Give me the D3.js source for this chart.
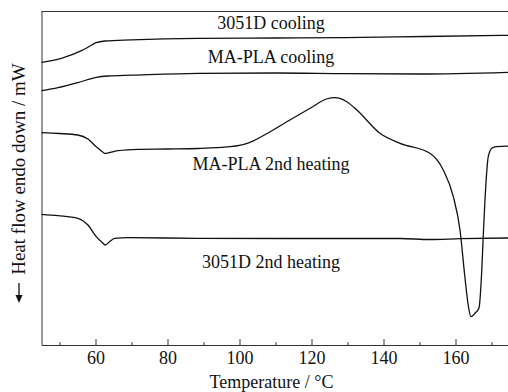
<!DOCTYPE html>
<html><head><meta charset="utf-8">
<script src="https://cdn.jsdelivr.net/npm/d3@7"></script>
<style>
html,body{margin:0;padding:0;background:#fff;}
svg{display:block;font-family:"Liberation Serif","Times New Roman",serif;}
</style></head>
<body><svg id="c" width="508" height="392"></svg>
<script>
// Temperature (°C) and heat-flow (arbitrary units, endo down)
const coolT_3051D = [45, 50.5, 56.1, 57.9, 60.2, 62.6, 70, 88.5, 110, 129.3, 151.5, 175];
const coolV_3051D = [282.7, 286.7, 294.3, 297.7, 302.3, 304, 305.2, 306.7, 307, 307.3, 308.5, 309.7];

const coolT_MAPLA = [45, 49.6, 55.1, 60.2, 63.5, 70, 88.5, 110, 129.3, 150, 175];
const coolV_MAPLA = [254.3, 257.3, 262.3, 267.7, 269, 269.8, 271.7, 272, 271.3, 271, 272.7];

const heatT_MAPLA = [45, 50, 55.1, 57.9, 60.2, 62.1, 62.6, 64, 66.3, 71.8, 80, 88.5, 97.4, 102.9, 108.5, 114, 119.6, 124.2, 126.5, 129.8, 132.6, 139, 144.6, 152.9, 156.6, 159.4, 161.25, 162.6, 163.6, 164.3, 165.4, 166.5, 167.3, 167.7, 168.4, 169.1, 170.1, 171.4, 175];
const heatV_MAPLA = [212.3, 211.5, 210, 206, 198.3, 192.7, 191.7, 192.5, 194.3, 195.7, 196, 196.5, 198.3, 202.7, 213.3, 225, 236.7, 246, 247.3, 243.3, 235, 211.7, 201.7, 191.7, 175, 148.3, 115, 68.3, 38.3, 28.3, 31.7, 36.7, 75, 108.3, 158.3, 188.3, 196.7, 198.3, 199];

const heatT_3051D = [45, 49.6, 55.1, 57.9, 60.2, 62.1, 62.7, 63.9, 65.3, 69, 88.5, 116.8, 144.6, 152.9, 161.25, 175];
const heatV_3051D = [130.7, 129.3, 126.7, 120, 108.3, 101.7, 100, 103.3, 106.7, 107.3, 106.7, 106.5, 106.5, 105.5, 106.3, 107];

const seriesNames = ["3051D cooling", "MA-PLA cooling", "MA-PLA 2nd heating", "3051D 2nd heating"];
const majorTicks = [60, 80, 100, 120, 140, 160];
const minorTicks = [50, 70, 90, 110, 130, 150, 170];
const xTitle = "Temperature / °C";
const yTitle = "Heat flow endo down / mW";

const series = [
  {name: seriesNames[0], T: coolT_3051D, V: coolV_3051D, lx: 271, ly: 29},
  {name: seriesNames[1], T: coolT_MAPLA, V: coolV_MAPLA, lx: 271, ly: 63},
  {name: seriesNames[2], T: heatT_MAPLA, V: heatV_MAPLA, lx: 271, ly: 170},
  {name: seriesNames[3], T: heatT_3051D, V: heatV_3051D, lx: 271, ly: 268}
];

const svg = d3.select("#c");
const mLeft = 41.5, mTop = 11, mBottom = 345;
const x = d3.scaleLinear().domain([45, 175]).range([mLeft, mLeft + 130 * 3.6]);
const y = d3.scaleLinear().domain([0, 334]).range([mBottom, mTop]);

svg.append("line").attr("x1", mLeft).attr("x2", 508).attr("y1", mTop + 0.5).attr("y2", mTop + 0.5)
  .attr("stroke", "#333").attr("stroke-width", 1);

const gx = svg.append("g").attr("transform", `translate(0,${mBottom})`);
gx.call(d3.axisBottom(x).tickValues(majorTicks).tickSizeInner(-6).tickSizeOuter(0).tickPadding(6).tickFormat(d3.format("d")));
gx.select(".domain").attr("stroke", "#333");
gx.selectAll(".tick line").attr("stroke", "#333");
gx.selectAll(".tick text").attr("font-size", 18).attr("fill", "#111")
  .attr("font-family", "'Liberation Serif','Times New Roman',serif");
const gm = svg.append("g").attr("transform", `translate(0,${mBottom})`);
gm.call(d3.axisBottom(x).tickValues(minorTicks).tickSizeInner(-3).tickSizeOuter(0).tickFormat(""));
gm.select(".domain").remove();
gm.selectAll(".tick line").attr("stroke", "#333");

const gy = svg.append("g").attr("transform", `translate(${mLeft},0)`);
gy.call(d3.axisLeft(y).tickValues([]).tickSizeOuter(0));
gy.select(".domain").attr("stroke", "#333");

const line = d3.line().x(d => x(d[0])).y(d => y(d[1])).curve(d3.curveMonotoneX);
series.forEach(s => {
  const pts = s.T.map((t, i) => [t, s.V[i]]);
  svg.append("path").datum(pts).attr("d", line).attr("fill", "none")
    .attr("stroke", "#111").attr("stroke-width", 1.3);
  svg.append("text").attr("x", s.lx).attr("y", s.ly).attr("text-anchor", "middle")
    .attr("font-size", 18).attr("fill", "#111").text(s.name);
});

svg.append("text").attr("x", 271.5).attr("y", 388).attr("text-anchor", "middle")
  .attr("font-size", 18).attr("fill", "#111").text(xTitle);

svg.append("text").attr("transform", "translate(25,169) rotate(-90)")
  .attr("text-anchor", "middle").attr("font-size", 19).attr("fill", "#111").text(yTitle);

svg.append("line").attr("x1", 19).attr("x2", 19).attr("y1", 283).attr("y2", 297)
  .attr("stroke", "#111").attr("stroke-width", 1.3);
svg.append("path").attr("d", "M15.5,295 L22.5,295 L19,303 Z").attr("fill", "#111");
</script></body></html>
